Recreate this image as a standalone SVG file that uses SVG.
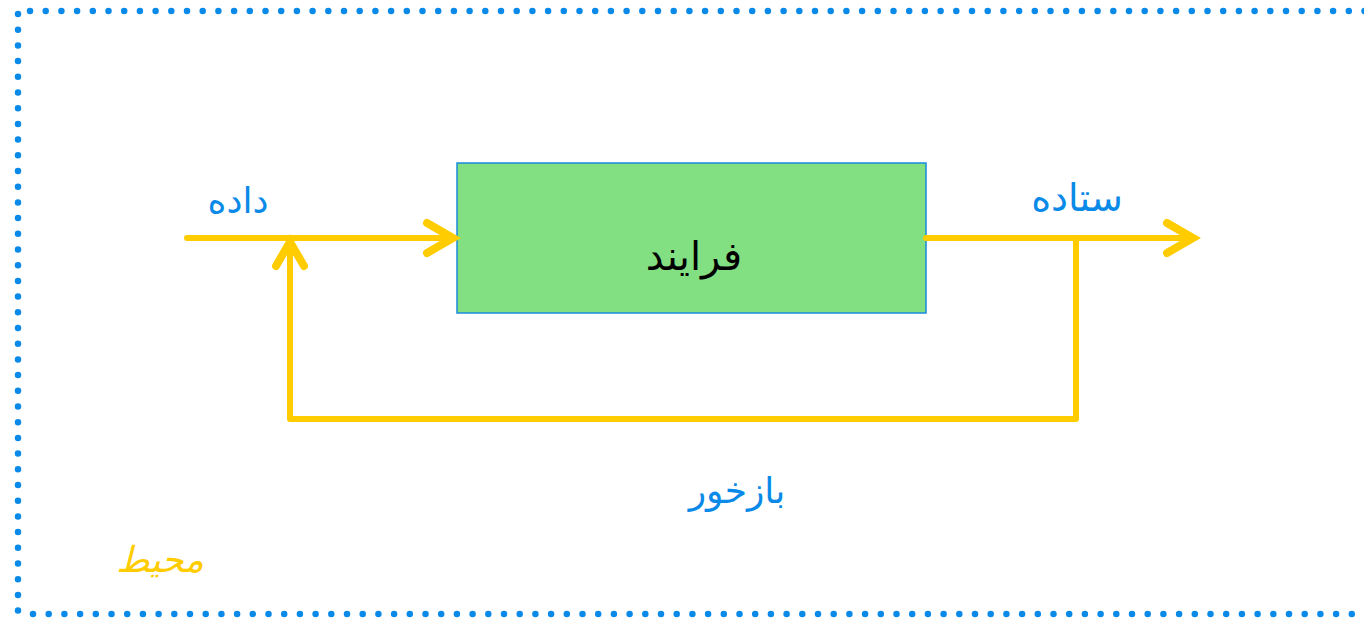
<svg xmlns="http://www.w3.org/2000/svg" width="1364" height="619" viewBox="0 0 1364 619">
<style>
.dots{fill:none;stroke:#0A8AE8;stroke-width:6.5;stroke-linecap:round;stroke-dasharray:0 15.7}
.conn{fill:none;stroke:#FFCC00;stroke-width:6;stroke-linecap:round;stroke-linejoin:round}
.head{fill:none;stroke:#FFCC00;stroke-width:8;stroke-linecap:round;stroke-linejoin:miter}
.lbl{font-family:"DejaVu Sans",sans-serif;fill:#0A8AE8;text-anchor:middle}
</style>
<rect width="1364" height="619" fill="#ffffff"/>
<g id="border">
<path class="dots" d="M30 11 H1370"/>
<path class="dots" d="M18 14 V614"/>
<path class="dots" d="M33 614 H1370"/>
</g>
<g id="process">
<rect x="457" y="163" width="469" height="150" fill="#82DF82" stroke="#1A8ADB" stroke-width="1.5"/>
<text x="694" y="270" font-family="DejaVu Sans,sans-serif" font-size="40" text-anchor="middle" fill="#000">فرایند</text>
</g>
<g id="connectors">
<path class="conn" d="M187 238 H450"/>
<path class="head" d="M427 223 L453 238 L427 253"/>
<path class="conn" d="M926 238 H1190"/>
<path class="head" d="M1167 223 L1193 238 L1167 253"/>
<path class="conn" d="M1076 238 V419 H290 V245"/>
<path class="head" d="M276 266 L290 242 L304 266"/>
</g>
<g id="input-label"><text class="lbl" x="238" y="213" font-size="36">داده</text></g>
<g id="output-label"><text class="lbl" x="1077" y="211" font-size="38">ستاده</text></g>
<g id="feedback-label"><text class="lbl" x="737" y="503" font-size="36">بازخور</text></g>
<g id="environment-label"><text x="160" y="572" font-family="DejaVu Sans,sans-serif" font-size="36" font-style="italic" text-anchor="middle" fill="#FFCC00">محیط</text></g>
</svg>
